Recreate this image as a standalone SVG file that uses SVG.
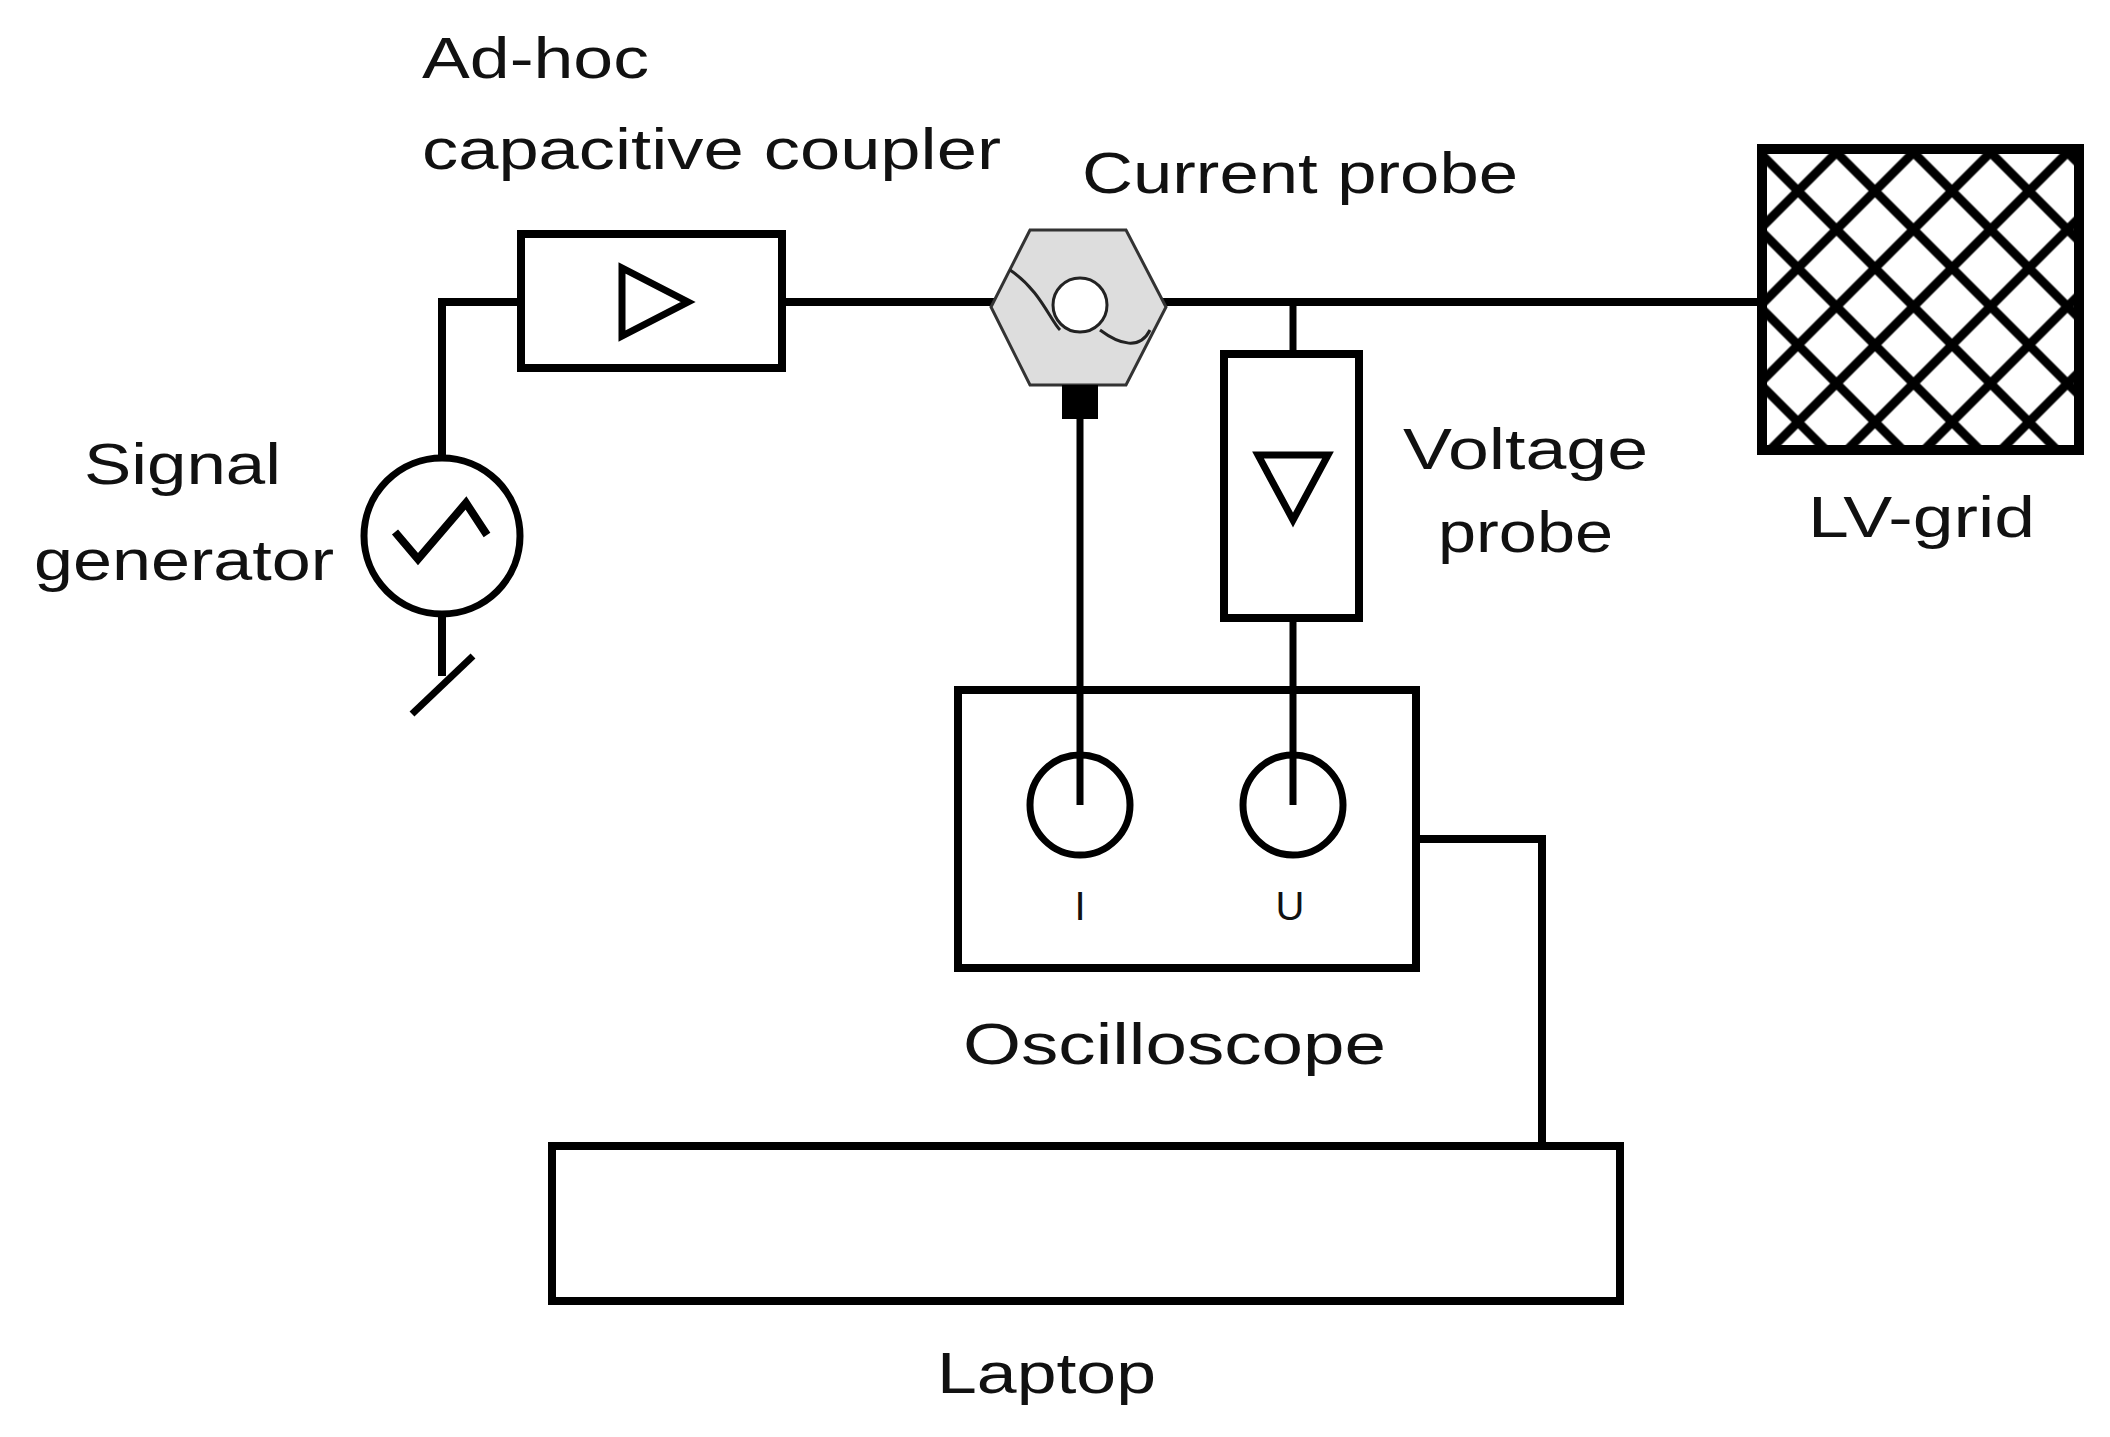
<svg xmlns="http://www.w3.org/2000/svg" width="2110" height="1437" viewBox="0 0 2110 1437">
<style>
.t{font-family:"Liberation Sans",Arial,sans-serif;font-size:57px;fill:#111}
.s{font-family:"Liberation Sans",Arial,sans-serif;font-size:40px;fill:#111}
.b{fill:none;stroke:#000;stroke-width:8}
.w{fill:none;stroke:#000;stroke-width:7}
</style>
<defs>
<pattern id="hatch" patternUnits="userSpaceOnUse" x="1759.5" y="152.5" width="77" height="77">
<path d="M-10,-10L87,87M87,-10L-10,87M-77,0L0,77M0,-77L77,0M77,154L154,77M-77,77L0,0M0,154L77,77M77,0L154,77" stroke="#000" stroke-width="9" fill="none"/>
</pattern>
</defs>
<rect width="2110" height="1437" fill="#fff"/>
<g id="connectors">
<path class="b" d="M521,302H442V456"/>
<path class="b" d="M442,615V676"/>
<line x1="473" y1="656" x2="412" y2="714" stroke="#000" stroke-width="7"/>
<line class="b" x1="782" y1="302" x2="1762" y2="302"/>
<path class="w" d="M1293,302V354"/>
<path class="w" d="M1293,618V805"/>
<path class="w" d="M1080,419V805"/>
<path class="b" d="M1416,839H1542V1146"/>
</g>
<g id="coupler">
<rect class="b" x="521" y="234" width="261" height="134"/>
<path class="w" d="M622,268V336L688,302Z"/>
<text class="t" x="422" y="78" textLength="227" lengthAdjust="spacingAndGlyphs">Ad-hoc</text>
<text class="t" x="422" y="169" textLength="579" lengthAdjust="spacingAndGlyphs">capacitive coupler</text>
</g>
<g id="generator">
<circle cx="442" cy="536" r="78" class="w"/>
<path d="M395,532L418,559L466,503L487,535" fill="none" stroke="#000" stroke-width="8"/>
<text class="t" x="84" y="484" textLength="197" lengthAdjust="spacingAndGlyphs">Signal</text>
<text class="t" x="34" y="580" textLength="300" lengthAdjust="spacingAndGlyphs">generator</text>
</g>
<g id="current-probe">
<path d="M1030,230H1126L1166,307L1126,385H1030L991,307Z" fill="#ddd" stroke="#333" stroke-width="3"/>
<path d="M1010,270C1040,290 1050,320 1060,330M1100,330C1120,345 1140,350 1150,330" fill="none" stroke="#222" stroke-width="3"/>
<circle cx="1080" cy="305" r="27" fill="#fff" stroke="#222" stroke-width="3"/>
<rect x="1062" y="385" width="36" height="34" fill="#000"/>
<text class="t" x="1082" y="193" textLength="436" lengthAdjust="spacingAndGlyphs">Current probe</text>
</g>
<g id="voltage-probe">
<rect class="b" x="1224" y="354" width="135" height="264"/>
<path class="w" d="M1258,455H1328L1293,520Z"/>
<text class="t" x="1403" y="469" textLength="245" lengthAdjust="spacingAndGlyphs">Voltage</text>
<text class="t" x="1438" y="552" textLength="175" lengthAdjust="spacingAndGlyphs">probe</text>
</g>
<g id="lv-grid">
<rect x="1762" y="149" width="317" height="301" fill="url(#hatch)" stroke="#000" stroke-width="10"/>
<text class="t" x="1808" y="537" textLength="227" lengthAdjust="spacingAndGlyphs">LV-grid</text>
</g>
<g id="oscilloscope">
<rect class="b" x="958" y="690" width="458" height="278"/>
<circle class="w" cx="1080" cy="805" r="50"/>
<circle class="w" cx="1293" cy="805" r="50"/>
<text class="s" x="1080" y="920" text-anchor="middle">I</text>
<text class="s" x="1290" y="920" text-anchor="middle">U</text>
<text class="t" x="963" y="1064" textLength="423" lengthAdjust="spacingAndGlyphs">Oscilloscope</text>
</g>
<g id="laptop">
<rect class="b" x="552" y="1146" width="1068" height="155"/>
<text class="t" x="937" y="1393" textLength="219" lengthAdjust="spacingAndGlyphs">Laptop</text>
</g>
</svg>
